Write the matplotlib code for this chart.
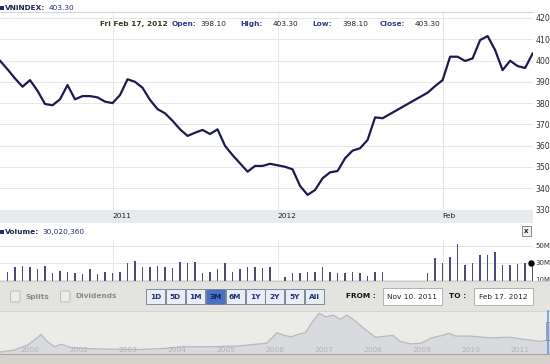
import numpy as np
import pandas as pd
import matplotlib.pyplot as plt
from matplotlib.patches import Rectangle, FancyBboxPatch

# trading sessions Nov 10 2011 - Feb 17 2012 (weekday axis, holidays left as gaps)
holidays = ["2012-01-02", "2012-01-23", "2012-01-24", "2012-01-25", "2012-01-26", "2012-01-27"]
days = pd.bdate_range("2011-11-10", "2012-02-17")
trade_days = days[~days.isin(pd.to_datetime(holidays))]

close = [399.9, 395.9, 391.6, 387.7, 390.8, 385.8, 379.6, 379.0, 381.8, 388.5,
         381.8, 383.3, 383.3, 382.7, 380.7, 380.0, 383.8, 391.2, 390.0, 387.2,
         381.5, 377.2, 375.2, 371.7, 367.7, 364.6, 366.1, 367.4, 365.5, 367.7,
         359.9, 355.6, 351.7, 347.8, 350.5, 350.5, 351.5,
         350.1, 348.9, 341.1, 336.9, 339.2, 344.7, 347.5, 348.1, 354.1, 357.7,
         358.8, 362.7, 373.3, 372.9,
         384.9, 388.0, 390.8, 401.8, 401.8, 399.8, 401.0, 409.6, 411.5, 404.9,
         395.5, 399.9, 397.4, 396.5, 403.3]

# volume in millions of shares
volume = [np.nan, 19.8, 24.9, 26.5, 24.9, 22.5, 26.5, 17.9, 20.9, 19.8, 18.6,
          17.1, 22.9, 17.1, 19.8, 18.6, 19.0, 30.4, 32.4, 24.9, 25.7,
          26.5, 24.9, 23.7, 31.6, 30.4, 31.6, 18.6, 19.8, 22.5, 30.4,
          19.8, 22.5, 24.9, 25.7, 23.7, 24.9,
          13.2, 18.6, 18.6, 19.8, 19.8, 24.9, 19.8, 18.6, 17.9, 19.0,
          17.9, 14.7, 19.0, 19.0,
          17.9, 35.5, 29.6, 37.4, 52.4, 27.6, 30.4, 39.4, 39.4, 43.3,
          27.6, 27.6, 28.8, 30.4, 30.0]

tick_dates = ["2011-12-01", "2012-01-02", "2012-02-01"]
tick_labels = ["2011", "2012", "Feb"]

price_ticks = [330, 340, 350, 360, 370, 380, 390, 400, 410, 420]
vol_ticks = [10, 30, 50]
vol_labels = ["10M", "30M", "50M"]

# long history shown in the navigator strip
nav_year = [1999.76, 2000.04, 2000.33, 2000.47, 2000.60, 2000.72, 2000.87, 2001.01,
            2001.19, 2001.47, 2001.90, 2002.62, 2003.12, 2003.48, 2004.05, 2004.62,
            2005.05, 2005.20, 2005.41, 2005.56, 2005.70, 2005.84, 2005.99, 2006.13,
            2006.27, 2006.41, 2006.56, 2006.70, 2006.84, 2006.99, 2007.20, 2007.42,
            2007.63, 2007.78, 2007.92, 2008.13, 2008.35, 2008.56, 2008.78, 2008.92,
            2009.06, 2009.35, 2009.78, 2010.14, 2010.50, 2010.78, 2010.98]
nav_value = [100, 150, 296, 442, 586, 393, 246, 315, 227, 199, 180, 169, 199, 246,
             246, 266, 324, 343, 635, 558, 520, 586, 635, 925, 1168, 1072, 1118,
             1003, 1118, 972, 732, 508, 539, 558, 393, 324, 343, 489, 558, 616,
             539, 539, 489, 508, 442, 393, 442]
nav_labels = ["2000", "2002", "2003", "2004", "2005", "2006", "2007", "2008",
              "2009", "2010", "2011"]

buttons = ["1D", "5D", "1M", "3M", "6M", "1Y", "2Y", "5Y", "All"]
selected = "3M"

start = np.datetime64("2011-11-10", "D")
x = np.busday_count(start, trade_days.values.astype("datetime64[D]"))
tick_x = np.busday_count(start, np.array(tick_dates, dtype="datetime64[D]"))

W, H = 550, 364
FS = 5.3


def box(x0, y0, x1, y1):
    return [x0 / W, 1 - y1 / H, (x1 - x0) / W, (y1 - y0) / H]


fig = plt.figure(figsize=(W / 100, H / 100), dpi=100)

# background overlay (below the plots)
bg = fig.add_axes([0, 0, 1, 1], zorder=-1)
bg.set_xlim(0, W)
bg.set_ylim(H, 0)
bg.axis("off")
bg.add_patch(Rectangle((0, 210), 533, 13, color="#e7ebf0", lw=0))

# price panel
ax = fig.add_axes(box(0, 12, 533, 210))
ax.plot(x, close, color="#1b1b50", lw=1.6, solid_joinstyle="round")
ax.set_xlim(0, 71.05)
ax.set_ylim(329.8, 422.8)
ax.set_yticks(price_ticks)
ax.yaxis.tick_right()
ax.tick_params(axis="y", length=0, pad=2, labelsize=5.6, labelcolor="#333333")
ax.set_xticks(tick_x, tick_labels)
ax.tick_params(axis="x", length=0, pad=2.2, labelsize=5.4, labelcolor="#222222")
for t in ax.get_xticklabels():
    t.set_ha("left")
ax.grid(True, color="#e6e6e6", lw=0.7)
ax.set_axisbelow(True)
for s in ["left", "right", "bottom"]:
    ax.spines[s].set_visible(False)
ax.spines["top"].set_color("#d6d6d6")
ax.spines["top"].set_linewidth(0.8)

# volume panel
axv = fig.add_axes(box(0, 239, 533, 281))
axv.bar(x, volume, width=0.2, color="#4b4b7d", lw=0)
axv.plot(x[-1] - 0.15, volume[-1], "o", ms=3.6, color="black", clip_on=False, zorder=5)
axv.set_xlim(0, 71.05)
axv.set_ylim(8.8, 58.2)
axv.set_yticks(vol_ticks, vol_labels)
axv.yaxis.tick_right()
axv.tick_params(axis="y", length=0, pad=1.9, labelsize=5.0, labelcolor="#333333")
axv.set_xticks(tick_x)
axv.tick_params(axis="x", length=0, labelbottom=False)
axv.grid(True, color="#e6e6e6", lw=0.7)
axv.set_axisbelow(True)
for s in axv.spines.values():
    s.set_visible(False)

# navigator panel
axn = fig.add_axes(box(0, 311, 550, 354))
axn.set_facecolor("#ebebe8")
axn.fill_between(nav_year, nav_value, 0, color="#d8dade", lw=0)
axn.plot(nav_year, nav_value, color="#b6b9bd", lw=0.9)
axn.set_xlim(1999.76, 2010.98)
axn.set_ylim(45, 1232)
for i, lab in enumerate(nav_labels):
    axn.text(2000.37 + i, 0.1, lab, transform=axn.get_xaxis_transform(),
             ha="center", va="center", fontsize=5.4, color="#b3b3b3")
axn.set_xticks([])
axn.set_yticks([])
for s in axn.spines.values():
    s.set_visible(False)

# foreground overlay: headers, controls
fg = fig.add_axes([0, 0, 1, 1], zorder=10)
fg.set_xlim(0, W)
fg.set_ylim(H, 0)
fg.axis("off")
fg.patch.set_alpha(0)

navy = "#23306e"
fg.add_patch(Rectangle((0, 6), 4, 4, color=navy, lw=0))
fg.text(5, 8, "VNINDEX:", fontsize=FS, fontweight="bold", color="#1d2552", va="center")
fg.text(49, 8, "403.30", fontsize=FS, color=navy, va="center")

info = [("Fri Feb 17, 2012", 100, "bold", "#3a3520"),
        ("Open:", 172, "bold", "#2c3d85"), ("398.10", 200, "normal", "#222222"),
        ("High:", 240, "bold", "#2c3d85"), ("403.30", 273, "normal", "#222222"),
        ("Low:", 312, "bold", "#2c3d85"), ("398.10", 342, "normal", "#222222"),
        ("Close:", 380, "bold", "#2c3d85"), ("403.30", 415, "normal", "#222222")]
for txt, px, fw, col in info:
    fg.text(px, 24, txt, fontsize=FS, fontweight=fw, color=col, va="center")

fg.add_patch(Rectangle((0, 230), 4, 4, color=navy, lw=0))
fg.text(5, 232, "Volume:", fontsize=FS, fontweight="bold", color="#1d2552", va="center")
fg.text(42, 232, "30,020,360", fontsize=FS, color=navy, va="center")
fg.add_patch(Rectangle((522, 226), 9, 10, facecolor="#f2f2f2", edgecolor="#777777", lw=0.6))
fg.text(526.5, 231.2, "x", fontsize=5, fontweight="bold", color="#222222", ha="center", va="center")

# control bar
fg.add_patch(Rectangle((0, 281), W, 30, color="#e3e3e0", lw=0))
fg.plot([0, W], [281.3, 281.3], color="#cdcdcd", lw=0.8)
fg.plot([0, W], [310.7, 310.7], color="#d0d0cc", lw=0.6)
for cx, lab in [(10.5, "Splits"), (60.5, "Dividends")]:
    fg.add_patch(FancyBboxPatch((cx, 291), 9.5, 11, boxstyle="round,pad=0,rounding_size=1.5",
                                facecolor="#ececea", edgecolor="#b5b5b5", lw=0.6))
    fg.text(cx + 15, 296.5, lab, fontsize=FS, fontweight="bold", color="#8a8a8a", va="center")

for i, lab in enumerate(buttons):
    bx = 146 + i * 19.9
    on = lab == selected
    fg.add_patch(Rectangle((bx, 289), 19, 15, facecolor="#4a72c4" if on else "#e9edf5",
                           edgecolor="#6f7a90", lw=0.6))
    fg.text(bx + 9.5, 296.7, lab, fontsize=FS, fontweight="bold",
            color="#0f1f5a" if on else "#1d2f78", ha="center", va="center")

fg.text(345.5, 296.5, "FROM :", fontsize=FS, fontweight="bold", color="#111111", va="center")
fg.add_patch(Rectangle((382.5, 288), 59, 17, facecolor="white", edgecolor="#a8a8a8", lw=0.6))
fg.text(412, 296.7, "Nov 10. 2011", fontsize=FS, color="#222222", ha="center", va="center")
fg.text(449, 296.5, "TO :", fontsize=FS, fontweight="bold", color="#111111", va="center")
fg.add_patch(Rectangle((474, 288), 58.5, 17, facecolor="white", edgecolor="#a8a8a8", lw=0.6))
fg.text(503.2, 296.7, "Feb 17. 2012", fontsize=FS, color="#222222", ha="center", va="center")

# navigator handle and scrollbar
fg.plot([548, 548], [311, 354], color="#6a9ae0", lw=1.2)
fg.add_patch(Rectangle((545.5, 322), 4.5, 18, facecolor="#cfcfcf", edgecolor="#8a8a8a", lw=0.5))
fg.add_patch(Rectangle((0, 354), W, 10, color="#d7d3cb", lw=0))
fg.plot([0, W], [354, 354], color="#a9a6a0", lw=0.8)

fig.savefig("out.png", dpi=100)
